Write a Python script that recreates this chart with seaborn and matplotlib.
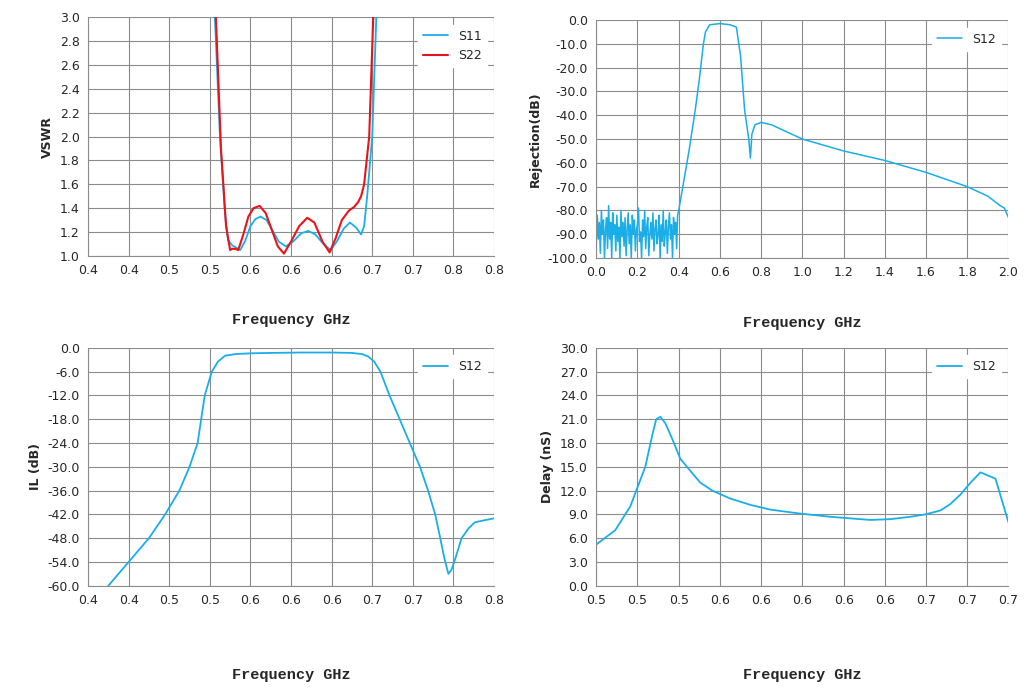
import numpy as np
import pandas as pd
import seaborn as sns
import matplotlib.pyplot as plt

# VSWR data
s11_f = [0.520, 0.525, 0.530, 0.535, 0.538, 0.542, 0.546, 0.550, 0.555, 0.560, 0.565, 0.570, 0.576, 0.582, 0.588, 0.595,
         0.602, 0.610, 0.617, 0.624, 0.632, 0.639, 0.645, 0.652, 0.658, 0.664, 0.669, 0.672, 0.675, 0.680, 0.684, 0.686]
s11_v = [3.5, 3.0, 2.0, 1.35, 1.13, 1.09, 1.07, 1.05, 1.13, 1.25, 1.31, 1.33, 1.30, 1.21, 1.12, 1.08,
         1.12, 1.19, 1.21, 1.18, 1.10, 1.05, 1.12, 1.23, 1.28, 1.24, 1.18, 1.25, 1.50, 2.00, 3.00, 3.5]
s22_f = [0.521, 0.526, 0.531, 0.536, 0.540, 0.542, 0.545, 0.548, 0.553, 0.558, 0.563, 0.569, 0.575, 0.581, 0.587, 0.593,
         0.600, 0.608, 0.616, 0.623, 0.631, 0.638, 0.644, 0.650, 0.657, 0.662, 0.666, 0.669, 0.672, 0.677, 0.681, 0.683]
s22_v = [3.5, 3.0, 1.9, 1.25, 1.05, 1.06, 1.06, 1.05, 1.18, 1.33, 1.40, 1.42, 1.36, 1.22, 1.08, 1.02,
         1.12, 1.25, 1.32, 1.28, 1.12, 1.03, 1.15, 1.30, 1.38, 1.41, 1.45, 1.50, 1.60, 2.00, 3.00, 3.5]

# Rejection data: noisy floor below 0.4 GHz, read by eye
floor_v = [-95, -82, -92, -85, -98, -80, -90, -84, -100, -88, -83, -96, -78, -92, -85, -100, -81, -90, -86, -97,
           -82, -93, -87, -100, -80, -91, -85, -95, -83, -99, -88, -81, -94, -86, -100, -82, -90, -84, -97, -88,
           -86, -79, -93, -89, -100, -84, -91, -80, -96, -87, -83, -99, -90, -85, -92, -81, -97, -88, -84, -94,
           -90, -82, -100, -86, -93, -80, -95, -89, -84, -98, -87, -81, -92, -86, -100, -83, -90, -85, -96, -82]
floor_f = [i * 0.005 for i in range(len(floor_v))]
band_f = [0.40, 0.42, 0.45, 0.48, 0.50, 0.52, 0.53, 0.55, 0.60, 0.65, 0.68, 0.70, 0.72, 0.74,
          0.748, 0.755, 0.77, 0.80, 0.85, 0.90, 1.00, 1.10, 1.20, 1.30, 1.40, 1.50, 1.60, 1.70, 1.80, 1.85, 1.90,
          1.93, 1.96, 1.98, 2.00]
band_v = [-80, -70, -55, -38, -25, -10, -5, -2, -1.5, -2, -3, -15, -38, -50,
          -58, -48, -44, -43, -44, -46, -50, -52.5, -55, -57, -59, -61.5, -64, -67, -70, -72, -74,
          -76, -78, -79, -83]
rej_f = floor_f + band_f
rej_v = floor_v + band_v

# Insertion loss data
il_f = [0.420, 0.440, 0.460, 0.476, 0.490, 0.500, 0.508, 0.515, 0.522, 0.528, 0.535, 0.545, 0.560, 0.580, 0.610, 0.640,
        0.660, 0.670, 0.676, 0.682, 0.688, 0.697, 0.707, 0.717, 0.727, 0.735, 0.742, 0.747, 0.751, 0.755, 0.758,
        0.762, 0.768, 0.775, 0.781, 0.790, 0.800]
il_v = [-60, -54, -48, -42, -36, -30, -24, -12, -6, -3.5, -2.0, -1.6, -1.4, -1.3, -1.2, -1.2,
        -1.3, -1.6, -2.2, -3.5, -6, -12, -18, -24, -30, -36, -42, -48, -53, -57, -56,
        -53, -48, -45.5, -44, -43.5, -43]

# Group delay data
dl_f = [0.5000, 0.5092, 0.5165, 0.5238, 0.5272, 0.5291, 0.5311, 0.5335, 0.5369, 0.5408, 0.5456, 0.5505,
        0.5563, 0.5650, 0.5748, 0.5845, 0.5990, 0.6136, 0.6233, 0.6330, 0.6427, 0.6524, 0.6597, 0.6670,
        0.6718, 0.6767, 0.6816, 0.6864, 0.6937, 0.7000]
dl_v = [5.2, 7.0, 10.0, 15.0, 19.0, 21.0, 21.3, 20.5, 18.5, 16.0, 14.5, 13.0, 12.0, 11.0, 10.2, 9.6,
        9.1, 8.7, 8.5, 8.3, 8.4, 8.7, 9.0, 9.5, 10.3, 11.5, 13.0, 14.3, 13.5, 8.0]

blue = '#1aaee8'
red = '#e8141b'

sns.set_style('whitegrid', {'grid.color': '#8c8c8c', 'axes.edgecolor': '#8c8c8c'})
plt.rcParams['font.family'] = ['DejaVu Sans']

fig = plt.figure(figsize=(10.28, 6.9), dpi=100)
ax1 = fig.add_axes([0.0856, 0.629, 0.395, 0.346])
ax2 = fig.add_axes([0.580, 0.626, 0.401, 0.345])
ax3 = fig.add_axes([0.0856, 0.151, 0.395, 0.345])
ax4 = fig.add_axes([0.580, 0.151, 0.401, 0.345])

sns.lineplot(x=s11_f, y=s11_v, ax=ax1, color=blue, lw=1.3, label='S11', sort=False)
sns.lineplot(x=s22_f, y=s22_v, ax=ax1, color=red, lw=1.5, label='S22', sort=False)
sns.lineplot(x=rej_f, y=rej_v, ax=ax2, color=blue, lw=1.1, label='S12', sort=False)
sns.lineplot(x=il_f, y=il_v, ax=ax3, color=blue, lw=1.3, label='S12', sort=False)
sns.lineplot(x=dl_f, y=dl_v, ax=ax4, color=blue, lw=1.3, label='S12', sort=False)

def style(ax, xt, yt, ylabel, xlab_pad):
    ax.set_xlim(xt[0], xt[-1])
    ax.set_ylim(yt[0], yt[-1])
    ax.set_xticks(xt)
    ax.set_xticklabels(['%.1f' % (v + 1e-9) for v in xt], fontsize=9)
    ax.set_yticks(yt)
    ax.set_yticklabels(['%.1f' % v for v in yt], fontsize=9)
    ax.tick_params(length=4, color='#8c8c8c', direction='out', pad=2)
    ax.set_ylabel(ylabel, fontsize=9, fontweight='bold')
    ax.set_xlabel('Frequency GHz', family='Liberation Mono', fontweight='bold', fontsize=11, labelpad=xlab_pad)
    for s in ax.spines.values():
        s.set_visible(False)
    ax.spines['bottom'].set_visible(True)
    ax.spines['left'].set_visible(True)
    leg = ax.legend(loc='upper right', frameon=True, fontsize=9, fancybox=False, borderaxespad=0.6)
    leg.get_frame().set_edgecolor('white')
    leg.get_frame().set_alpha(1)

style(ax1, np.linspace(0.4, 0.8, 11), np.arange(1.0, 3.01, 0.2), 'VSWR', 26)
style(ax2, np.arange(0, 2.01, 0.2), np.arange(-100, 1, 10), 'Rejection(dB)', 26)
style(ax3, np.linspace(0.4, 0.8, 11), np.arange(-60, 1, 6), 'IL (dB)', 44)
style(ax4, np.linspace(0.5, 0.7, 11), np.arange(0, 31, 3), 'Delay (nS)', 44)

fig.savefig('out.png', dpi=100)
